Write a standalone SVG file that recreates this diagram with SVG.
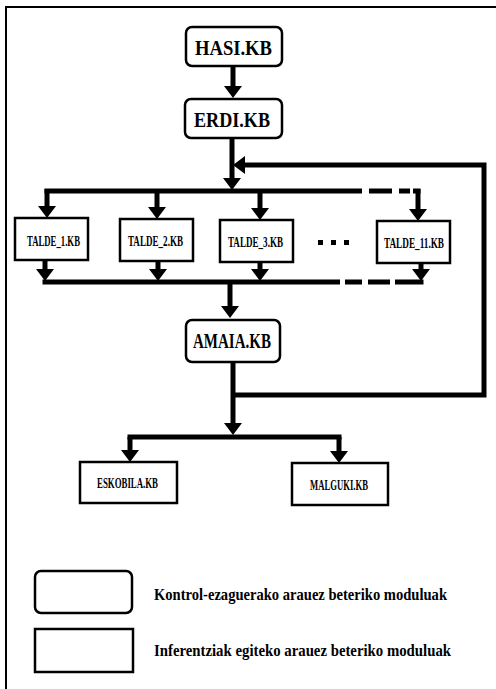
<svg xmlns="http://www.w3.org/2000/svg" width="496" height="689" viewBox="0 0 496 689">
<defs>
<marker id="ah" viewBox="0 0 12 18" refX="0" refY="9" markerWidth="12" markerHeight="18" markerUnits="userSpaceOnUse" orient="auto"><path d="M0,0 L12,9 L0,18 Z" fill="#000"/></marker>
</defs>
<style>
.k{fill:#fff;stroke:#000;stroke-width:2.5}
.c{fill:none;stroke:#000;stroke-width:5;stroke-linejoin:miter}
.a{fill:none;stroke:#000;stroke-width:5;marker-end:url(#ah)}
.t{font-family:"Liberation Serif",serif;font-weight:bold;fill:#000;text-anchor:middle}
.big{font-size:22px}
.sm{font-size:15px}
.lg{font-family:"Liberation Serif",serif;font-weight:bold;fill:#000;font-size:16px}
</style>
<rect width="496" height="689" fill="#fff"/>
<path d="M5,7 H496 M6,6 V689" stroke="#000" stroke-width="2" fill="none"/>
<g id="connectors">
<path class="a" d="M233,67 V86"/>
<path class="a" d="M232,138 V178"/>
<path class="a" d="M231,395 H484 V165 H245"/>
<path class="c" d="M44.5,191 H362 M369,191 H392 M399,191 H410 M413,191 H420.5"/>
<path class="a" d="M47,189 V206"/>
<path class="a" d="M157,191 V207"/>
<path class="a" d="M260,191 V208"/>
<path class="a" d="M418,189 V209"/>
<path class="a" d="M45,260 V269"/>
<path class="a" d="M158,261 V269"/>
<path class="a" d="M260,262 V269"/>
<path class="a" d="M421,263 V269"/>
<path class="c" d="M42.5,282 H340 M345,282 H362 M368,282 H390 M395,282 H423.5"/>
<path class="a" d="M230,282 V306"/>
<path class="a" d="M233,362 V423"/>
<path class="c" d="M127.5,437 H341.5"/>
<path class="a" d="M130,437 V450"/>
<path class="a" d="M339,437 V451"/>
<g fill="#000"><rect x="318" y="240" width="5" height="5"/><rect x="331" y="240" width="5" height="5"/><rect x="344" y="240" width="5" height="5"/></g>
</g>
<g id="hasi"><rect class="k" x="186" y="27" width="96" height="39" rx="6"/><text class="t big" x="233.5" y="55" textLength="77" lengthAdjust="spacingAndGlyphs">HASI.KB</text></g>
<g id="erdi"><rect class="k" x="185" y="99" width="97" height="39" rx="6"/><text class="t big" x="232" y="127" textLength="76" lengthAdjust="spacingAndGlyphs">ERDI.KB</text></g>
<g id="talde1"><rect class="k" x="15" y="218" width="73" height="42"/><text class="t sm" x="53.5" y="246" textLength="53" lengthAdjust="spacingAndGlyphs">TALDE_1.KB</text></g>
<g id="talde2"><rect class="k" x="120" y="219" width="73" height="42"/><text class="t sm" x="155.5" y="246" textLength="55" lengthAdjust="spacingAndGlyphs">TALDE_2.KB</text></g>
<g id="talde3"><rect class="k" x="220" y="220" width="73" height="42"/><text class="t sm" x="255.5" y="247" textLength="55" lengthAdjust="spacingAndGlyphs">TALDE_3.KB</text></g>
<g id="talde11"><rect class="k" x="377" y="221" width="73" height="42"/><text class="t sm" x="414" y="248" textLength="60" lengthAdjust="spacingAndGlyphs">TALDE_11.KB</text></g>
<g id="amaia"><rect class="k" x="186" y="320" width="94" height="42" rx="6"/><text class="t big" x="232" y="348" textLength="78" lengthAdjust="spacingAndGlyphs">AMAIA.KB</text></g>
<g id="eskobila"><rect class="k" x="80" y="462" width="97" height="41"/><text class="t sm" x="127.5" y="488" textLength="61" lengthAdjust="spacingAndGlyphs">ESKOBILA.KB</text></g>
<g id="malguki"><rect class="k" x="292" y="463" width="96" height="42"/><text class="t sm" x="339" y="490" textLength="58" lengthAdjust="spacingAndGlyphs">MALGUKI.KB</text></g>
<g id="legend-control"><rect class="k" x="35" y="571" width="97" height="42" rx="6"/><text class="lg" x="154" y="600" textLength="293" lengthAdjust="spacingAndGlyphs">Kontrol-ezaguerako arauez beteriko moduluak</text></g>
<g id="legend-inference"><rect class="k" x="35" y="629" width="98" height="43"/><text class="lg" x="154" y="656" textLength="297" lengthAdjust="spacingAndGlyphs">Inferentziak egiteko arauez beteriko moduluak</text></g>
</svg>
